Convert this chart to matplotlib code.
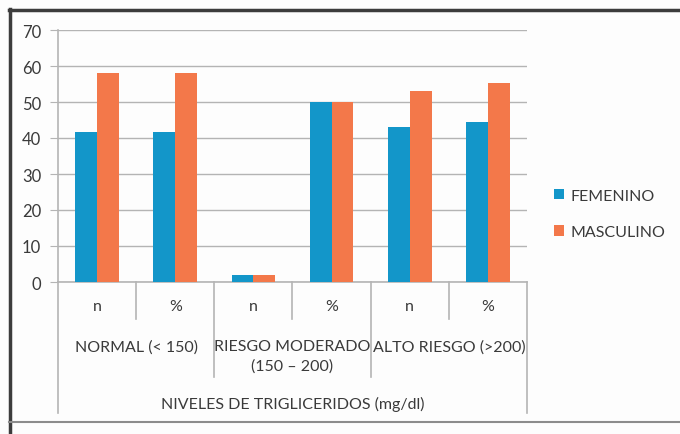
import numpy as np
import matplotlib.pyplot as plt
from matplotlib.lines import Line2D
import matplotlib.transforms as mtransforms

plt.rcParams['font.family'] = ['Lato', 'DejaVu Sans']

# datos
subcats = ['n', '%', 'n', '%', 'n', '%']
grupos = ['NORMAL (< 150)', 'RIESGO MODERADO\n(150 – 200)', 'ALTO RIESGO (>200)']
titulo_eje = 'NIVELES DE TRIGLICERIDOS (mg/dl)'
femenino = [41.7, 41.7, 2, 50, 43, 44.5]
masculino = [58, 58, 2, 50, 53, 55.2]

azul = '#1396c9'
naranja = '#f3784a'
gris = '#b4b4b4'
texto = '#3a3a3a'
fs = 11.5

fig = plt.figure(figsize=(6.8, 4.35), dpi=100)
fig.patch.set_facecolor('#fdfdfd')
ax = fig.add_axes([58 / 680, 152 / 435, 469 / 680, 252 / 435])
ax.set_facecolor('#fdfdfd')

x = np.arange(len(subcats))
w = 0.28
ax.bar(x - w / 2, femenino, w, color=azul, label='FEMENINO', zorder=3)
ax.bar(x + w / 2, masculino, w, color=naranja, label='MASCULINO', zorder=3)

ax.set_xlim(-0.5, len(subcats) - 0.5)
ax.set_ylim(0, 70)
ax.set_yticks(range(0, 71, 10))
ax.yaxis.grid(True, color=gris, linewidth=1, zorder=0)
ax.tick_params(axis='y', length=6, color=gris, labelsize=12, labelcolor=texto, pad=6)
ax.tick_params(axis='x', length=0, labelbottom=False)
for s in ['top', 'right']:
    ax.spines[s].set_visible(False)
for s in ['left', 'bottom']:
    ax.spines[s].set_color(gris)
    ax.spines[s].set_linewidth(1.2)

# etiquetas jerárquicas del eje x
tr = mtransforms.blended_transform_factory(ax.transData, ax.transAxes)
bordes = np.arange(len(subcats) + 1) - 0.5

def frac(px):
    return -px / 252

for b in bordes:
    i = int(b + 0.5)
    if i in (0, len(subcats)):
        y1 = frac(131)
    elif i % 2 == 0:
        y1 = frac(95)
    else:
        y1 = frac(37)
    ax.plot([b, b], [0, y1], color=gris, lw=1.2, transform=tr, clip_on=False)

for xi, lab in zip(x, subcats):
    ax.text(xi, frac(24), lab, transform=tr, ha='center', va='center',
            fontsize=fs, color=texto)
for g, lab in enumerate(grupos):
    ax.text(2 * g + 0.5, frac(57), lab, transform=tr, ha='center', va='top',
            fontsize=fs, color=texto, linespacing=1.45)
ax.text(2.5, frac(121), titulo_eje, transform=tr, ha='center', va='center',
        fontsize=fs, color=texto)

fig.legend(loc='center left', bbox_to_anchor=(540 / 680, 1 - 215 / 435),
           frameon=False, handlelength=0.6, handleheight=0.6,
           labelspacing=1.4, handletextpad=0.4, fontsize=fs,
           labelcolor=texto)

# marco exterior
fig.add_artist(Line2D([9 / 680, 1], [1 - 11 / 435] * 2, color='#3c3c3c', lw=2.5,
                      transform=fig.transFigure))
fig.add_artist(Line2D([9.5 / 680] * 2, [0, 1 - 10 / 435], color='#3c3c3c', lw=2.5,
                      transform=fig.transFigure))
fig.add_artist(Line2D([9 / 680, 1], [1 - 423 / 435] * 2, color='#8c8c8c', lw=1.5,
                      transform=fig.transFigure))

fig.savefig('out.png', dpi=100, facecolor=fig.get_facecolor())
